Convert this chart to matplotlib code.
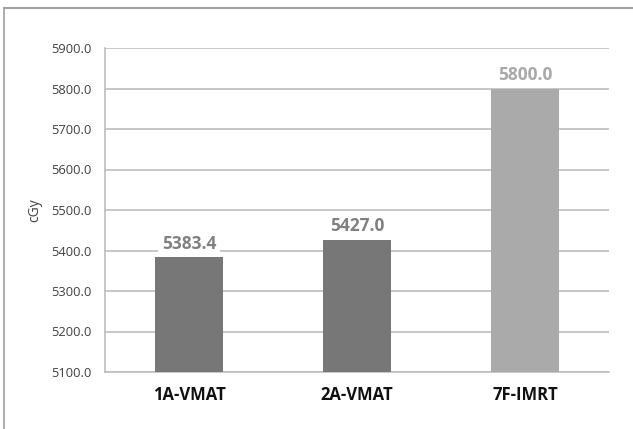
import matplotlib
matplotlib.use("Agg")
import matplotlib.pyplot as plt
from matplotlib.lines import Line2D

plt.rcParams['font.family'] = ['Open Sans', 'DejaVu Sans']

# dose per technique
plans = ["1A-VMAT", "2A-VMAT", "7F-IMRT"]
dose = [5383.4, 5427.0, 5800.0]
bar_colors = ["#777777", "#777777", "#aaaaaa"]
label_colors = ["#808080", "#808080", "#a8a8a8"]
yticks = [5100, 5200, 5300, 5400, 5500, 5600, 5700, 5800, 5900]

fig = plt.figure(figsize=(6.33, 4.29), dpi=100)
ax = fig.add_axes([105/633, 1-372/429, 504/633, 324/429])

x = range(len(plans))
ax.bar(x, [d - 5100 for d in dose], bottom=5100, width=0.4, color=bar_colors, zorder=3)

for i, d in enumerate(dose):
    ax.annotate(f"{d:.1f}", (i, d), xytext=(0, 3), textcoords="offset points",
                ha="center", va="bottom", fontsize=12.5, fontweight="bold",
                color=label_colors[i], zorder=4,
                bbox=dict(boxstyle="square,pad=0.2", fc="white", ec="none"))

ax.set_xlim(-0.5, 2.5)
ax.set_ylim(5100, 5900)
ax.set_yticks(yticks)
ax.set_yticklabels([f"{t:.1f}" for t in yticks], fontsize=9.3, color="#404040")
ax.set_xticks(list(x))
ax.set_xticklabels(plans, fontsize=12, fontweight="bold", color="#111111")
ax.tick_params(axis="y", length=0, pad=10)
ax.tick_params(axis="x", length=0, pad=10)
ax.grid(axis="y", color="#bdbdbd", linewidth=1.2, zorder=0)
ax.set_axisbelow(True)

for s in ["top", "right"]:
    ax.spines[s].set_visible(False)
ax.spines["left"].set_color("#bdbdbd")
ax.spines["bottom"].set_color("#bdbdbd")
ax.spines["left"].set_linewidth(1.2)
ax.spines["bottom"].set_linewidth(1.2)

ax.set_ylabel("cGy", fontsize=10, color="#404040")
ax.yaxis.set_label_coords(-0.125, 0.5)

# outer chart frame
fig.add_artist(Line2D([4/633, 1], [1-8/429, 1-8/429], color="#a0a0a0", lw=1.5))
fig.add_artist(Line2D([4/633, 4/633], [0, 1-8/429], color="#a0a0a0", lw=1.2))

fig.savefig("out.png", dpi=100)
